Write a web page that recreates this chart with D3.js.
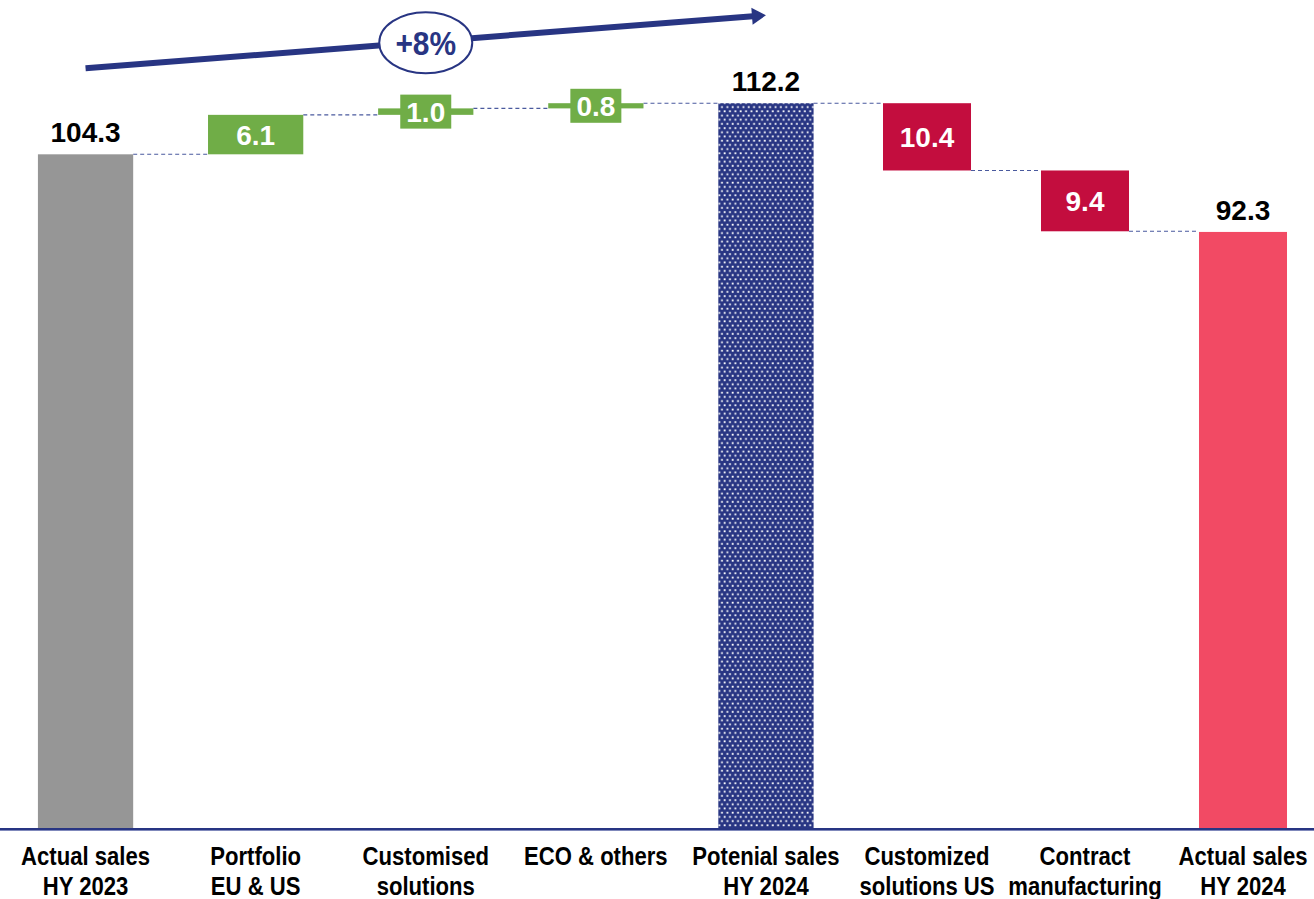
<!DOCTYPE html>
<html>
<head>
<meta charset="utf-8">
<script src="https://cdn.jsdelivr.net/npm/d3@7"></script>
<style>
  html, body { margin: 0; padding: 0; background: #ffffff; }
  svg { display: block; }
</style>
</head>
<body>
<svg id="chart" width="1314" height="899"></svg>
<script>
// Sales bridge, HY 2023 -> HY 2024 (EUR m)
const categories = [
  ["Actual sales", "HY 2023"],
  ["Portfolio", "EU & US"],
  ["Customised", "solutions"],
  ["ECO & others"],
  ["Potenial sales", "HY 2024"],
  ["Customized", "solutions US"],
  ["Contract", "manufacturing"],
  ["Actual sales", "HY 2024"]
];
// kind: total bars start at zero, deltas float on the running sum
const kinds  = ["total", "up", "up", "up", "total", "down", "down", "total"];
const values = [104.3, 6.1, 1.0, 0.8, 112.2, 10.4, 9.4, 92.3];
const labels = ["104.3", "6.1", "1.0", "0.8", "112.2", "10.4", "9.4", "92.3"];
const fills  = ["#969696", "#70ad47", "#70ad47", "#70ad47", "url(#dots)", "#c30d3e", "#c30d3e", "#f24a64"];

const W = 1314, H = 899;
const svg = d3.select("#chart");
const navy = "#283583";

// dotted fill for the potential-sales bar
const defs = svg.append("defs");
const pat = defs.append("pattern").attr("id", "dots")
  .attr("patternUnits", "userSpaceOnUse").attr("width", 5.35).attr("height", 8.4);
pat.append("rect").attr("width", 5.35).attr("height", 8.4).attr("fill", navy);
pat.append("rect").attr("x", 1.5).attr("y", 1.2).attr("width", 1.8).attr("height", 1.8).attr("fill", "#fff");
pat.append("rect").attr("x", 4.2).attr("y", 5.4).attr("width", 1.8).attr("height", 1.8).attr("fill", "#fff");
pat.append("rect").attr("x", -1.15).attr("y", 5.4).attr("width", 1.8).attr("height", 1.8).attr("fill", "#fff");

// two x bands: the build-up to potential sales, then the deductions
const ids = categories.map((c, i) => i);
const xLeft = d3.scaleBand().domain(ids.slice(0, 5)).range([0.5, 851]).paddingInner(0.44).paddingOuter(0.22);
const xRight = d3.scaleBand().domain(ids.slice(5)).range([848, 1322]).paddingInner(0.443).paddingOuter(0.2215);
const xs = i => (i < 5 ? xLeft : xRight);
const xPos = i => xs(i)(i);
const bw = i => xs(i).bandwidth();
const xMid = i => xPos(i) + bw(i) / 2;

const y = d3.scaleLinear().domain([0, 128]).range([829, 1]);

// running sum -> start/end of each bar
let run = 0;
const bars = values.map((v, i) => {
  let start, end;
  if (kinds[i] === "total") { start = 0; end = v; run = v; }
  else if (kinds[i] === "up") { start = run; end = run + v; run = end; }
  else { start = run; end = run - v; run = end; }
  return { i, v, start, end, kind: kinds[i] };
});

// dashed connectors between consecutive bars
const g = svg.append("g");
for (let k = 0; k < bars.length - 1; k++) {
  const b = bars[k], n = bars[k + 1];
  g.append("line")
    .attr("x1", xPos(b.i) + bw(b.i)).attr("x2", xPos(n.i))
    .attr("y1", y(b.end)).attr("y2", y(b.end))
    .attr("stroke", "#4a5a9e").attr("stroke-width", 1.1)
    .attr("stroke-dasharray", "4 3");
}

// bars
g.selectAll("rect.bar").data(bars).join("rect")
  .attr("class", "bar")
  .attr("x", d => xPos(d.i))
  .attr("width", d => bw(d.i))
  .attr("y", d => y(Math.max(d.start, d.end)))
  .attr("height", d => Math.abs(y(d.start) - y(d.end)))
  .attr("fill", d => fills[d.i]);

const font = "'Liberation Sans', Arial, sans-serif";

// value labels
bars.forEach(d => {
  const cx = xMid(d.i);
  if (d.kind === "total") {
    g.append("text").attr("x", cx).attr("y", y(d.end) - 12)
      .attr("text-anchor", "middle").attr("font-family", font)
      .attr("font-weight", "bold").attr("font-size", 28).attr("fill", "#000")
      .text(labels[d.i]);
  } else {
    const top = y(Math.max(d.start, d.end)), bot = y(Math.min(d.start, d.end));
    const cy = (top + bot) / 2;
    if (bot - top < 36) {
      g.append("rect").attr("x", cx - 25.5).attr("y", cy - 17)
        .attr("width", 51).attr("height", 34).attr("fill", fills[d.i]);
    }
    g.append("text").attr("x", cx).attr("y", cy + 10)
      .attr("text-anchor", "middle").attr("font-family", font)
      .attr("font-weight", "bold").attr("font-size", 28).attr("fill", "#fff")
      .text(labels[d.i]);
  }
});

// baseline
svg.append("line").attr("x1", 0).attr("x2", W).attr("y1", 830.5).attr("y2", 830.5)
  .attr("stroke", "#7f88bb").attr("stroke-width", 1);
svg.append("line").attr("x1", 0).attr("x2", W).attr("y1", 829).attr("y2", 829)
  .attr("stroke", navy).attr("stroke-width", 2);

// category labels, set in a condensed bold face
categories.forEach((lines, i) => {
  lines.forEach((ln, j) => {
    svg.append("text")
      .attr("transform", `translate(${xMid(i)},${865 + j * 30}) scale(0.85,1)`)
      .attr("text-anchor", "middle").attr("font-family", font)
      .attr("font-weight", "bold").attr("font-size", 26).attr("fill", "#000")
      .text(ln);
  });
});

// growth arrow from actual HY 2023 to potential HY 2024
const growth = Math.round((values[4] / values[0] - 1) * 100);
const ax1 = xMid(0), ay1 = y(117.6), ax2 = xMid(4), ay2 = y(125.8);
const ang = Math.atan2(ay2 - ay1, ax2 - ax1);
const headLen = 14, headW = 8.5;
const bx = ax2 - headLen * Math.cos(ang), by = ay2 - headLen * Math.sin(ang);
svg.append("line").attr("x1", ax1).attr("y1", ay1).attr("x2", bx + Math.cos(ang)).attr("y2", by + Math.sin(ang))
  .attr("stroke", navy).attr("stroke-width", 6);
svg.append("polygon")
  .attr("points", [
    [ax2, ay2],
    [bx - headW * Math.sin(ang), by + headW * Math.cos(ang)],
    [bx + headW * Math.sin(ang), by - headW * Math.cos(ang)]
  ].map(p => p.join(",")).join(" "))
  .attr("fill", navy);
const ex = (ax1 + ax2) / 2, ey = (ay1 + ay2) / 2 + 1;
svg.append("ellipse").attr("cx", ex).attr("cy", ey).attr("rx", 46.5).attr("ry", 30.5)
  .attr("fill", "#fff").attr("stroke", navy).attr("stroke-width", 2);
svg.append("text")
  .attr("transform", `translate(${ex},${ey + 12}) scale(0.88,1)`)
  .attr("text-anchor", "middle")
  .attr("font-family", font).attr("font-weight", "bold").attr("font-size", 34)
  .attr("fill", navy).text((growth >= 0 ? "+" : "") + growth + "%");
</script>
</body>
</html>
